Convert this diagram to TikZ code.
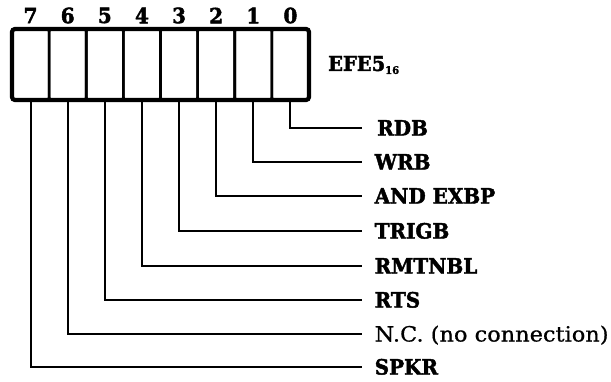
\documentclass[tikz,border=0pt]{standalone}
\usepackage{fontspec}
\setmainfont{DejaVu Serif}[FakeStretch=0.95, BoldFeatures={FakeBold=2}]
\newfontfamily\ncfont{DejaVu Serif}[FakeStretch=1.07, FakeBold=0.6]
\begin{document}
\begin{tikzpicture}[x=1pt,y=-1pt,
  frame/.style={draw, line width=4.2pt, rounded corners=3pt, minimum width=297pt, minimum height=71pt, inner sep=0pt},
  cell/.style={draw, line width=2.6pt, rounded corners=2.5pt, minimum width=37.125pt, minimum height=71pt, inner sep=0pt},
  wire/.style={line width=2.1pt},
  lbl/.style={anchor=west, inner xsep=12.5pt, inner ysep=0pt, font=\bfseries\fontsize{21}{21}\selectfont, text height=15pt, text depth=0pt},
  num/.style={font=\bfseries\fontsize{21}{21}\selectfont, inner sep=0pt}]
\useasboundingbox (0,0) rectangle (611,381);
\foreach \b in {0,...,7} {
  \node[cell] (c\b) at ({12+(7.5-\b)*37.125}, 64.5) {};
  \node[num] (n\b) at ({12+(7.5-\b)*37.125}, 15.5) {\b};
}
\node[frame] (box) at (160.5,64.5) {};
\node[anchor=west, inner sep=0pt, font=\bfseries\fontsize{20.5}{20.5}\selectfont] (reg) at (328,65) {EFE5\raisebox{-3pt}{\fontsize{10.5}{10.5}\selectfont 16}};
\node[lbl, inner xsep=15pt] (l0) at (362,128) {RDB};
\node[lbl] (l1) at (362,162) {WRB};
\node[lbl] (l2) at (362,196) {AND EXBP};
\node[lbl] (l3) at (362,231) {TRIGB};
\node[lbl] (l4) at (362,266) {RMTNBL};
\node[lbl] (l5) at (362,300) {RTS};
\node[lbl, font=\ncfont\fontsize{21}{21}\selectfont] (l6) at (362,334) {N.C. (no connection)};
\node[lbl] (l7) at (362,367) {SPKR};
\foreach \b in {0,...,7} {
  \draw[wire] (c\b.south) |- (l\b.west);
}
\end{tikzpicture}
\end{document}
